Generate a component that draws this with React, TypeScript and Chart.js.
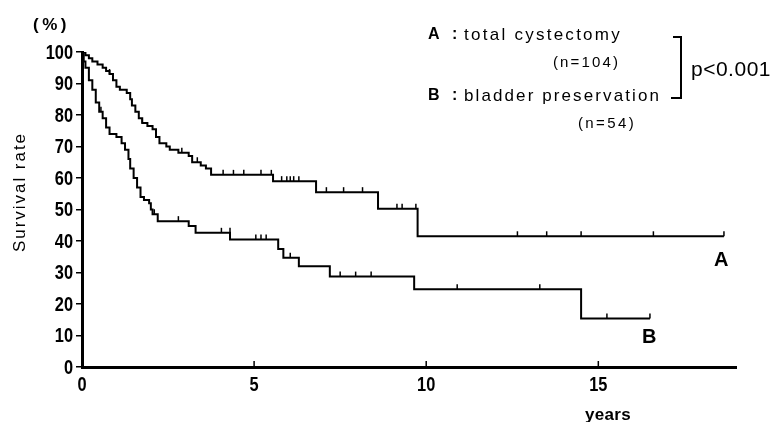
import React, { useEffect, useRef } from "react";
import { Chart, registerables } from "chart.js";
Chart.register(...registerables);

// Kaplan-Meier curve A: total cystectomy (time in years, survival %)
const aTimes = [0, 0.1, 0.2, 0.3, 0.45, 0.6, 0.7, 0.8, 0.9, 1.0, 1.1, 1.3, 1.4, 1.45, 1.55, 1.65, 1.75, 1.9, 2.05, 2.15, 2.25, 2.45, 2.55, 2.8, 3.1, 3.2, 3.45, 3.6, 3.75, 5.55, 6.8, 8.6, 9.75, 18.65];
const aSurv = [100, 99, 98, 97, 96, 95, 94, 93, 91, 89, 88, 87, 85, 83, 81, 79, 77.5, 76.5, 75.5, 73, 71, 70, 69, 68, 67, 65, 64, 63, 61, 59, 55.5, 50.2, 41.5, 41.5];
// Curve B: bladder preservation
const bTimes = [0, 0.05, 0.1, 0.2, 0.3, 0.4, 0.5, 0.6, 0.7, 0.8, 1.0, 1.15, 1.25, 1.35, 1.4, 1.5, 1.6, 1.7, 1.8, 1.95, 2.0, 2.05, 2.2, 3.1, 3.3, 4.3, 5.7, 5.85, 6.3, 7.2, 9.65, 14.5, 16.5];
const bSurv = [100, 97, 95, 91, 88, 84, 81, 79, 76, 74, 73, 71, 69, 66, 63, 60, 57, 54, 53, 52, 50, 48.5, 46.3, 44.8, 42.6, 40.5, 37.5, 34.7, 32, 28.7, 24.7, 15.4, 15.4];
// Censored observations
const aCensorTimes = [0.8, 1.75, 2.9, 3.35, 4.1, 4.4, 4.7, 5.2, 5.5, 5.8, 5.95, 6.05, 6.15, 6.3, 7.1, 7.6, 8.15, 9.15, 9.3, 9.7, 12.65, 13.5, 14.5, 16.6, 18.65];
const aCensorSurv = [93, 77.5, 68, 65, 61, 61, 61, 61, 61, 59, 59, 59, 59, 59, 55.5, 55.5, 55.5, 50.2, 50.2, 50.2, 41.5, 41.5, 41.5, 41.5, 41.5];
const bCensorTimes = [0.55, 2.1, 2.8, 4.05, 4.3, 5.05, 5.2, 5.35, 6.05, 7.5, 7.95, 8.4, 10.9, 13.3, 15.25, 16.5];
const bCensorSurv = [81, 48.5, 46.3, 42.6, 42.6, 40.5, 40.5, 40.5, 34.7, 28.7, 28.7, 28.7, 24.7, 24.7, 15.4, 15.4];

const xTickValues = [0, 5, 10, 15];
const yTickValues = [0, 10, 20, 30, 40, 50, 60, 70, 80, 90, 100];

const FONT = '"Liberation Sans", Arial, sans-serif';
const SQUEEZE = 0.78;

function fitText(ctx: CanvasRenderingContext2D, text: string, x: number, y: number, width: number) {
  (ctx as any).letterSpacing = "0px";
  const w = ctx.measureText(text).width;
  const sp = (width - w) / text.length;
  (ctx as any).letterSpacing = `${sp}px`;
  ctx.fillText(text, x, y);
  (ctx as any).letterSpacing = "0px";
}

function narrowText(ctx: CanvasRenderingContext2D, text: string, x: number, y: number, align: "left" | "right" | "center") {
  ctx.save();
  ctx.translate(x, y);
  ctx.scale(SQUEEZE, 1);
  ctx.textAlign = align;
  ctx.fillText(text, 0, 0);
  ctx.restore();
}

const overlay = {
  id: "overlay",
  afterDatasetsDraw(chart: any) {
    const ctx: CanvasRenderingContext2D = chart.ctx;
    const xs = chart.scales.x;
    const ys = chart.scales.y;
    ctx.save();
    ctx.strokeStyle = "#000";
    ctx.lineWidth = 1.5;
    const drawCensor = (ts: number[], ss: number[]) => {
      ts.forEach((t, i) => {
        const px = xs.getPixelForValue(t);
        const py = ys.getPixelForValue(ss[i]);
        ctx.beginPath();
        ctx.moveTo(px, py);
        ctx.lineTo(px, py - 5);
        ctx.stroke();
      });
    };
    drawCensor(aCensorTimes, aCensorSurv);
    drawCensor(bCensorTimes, bCensorSurv);
    xTickValues.forEach((v) => {
      if (v === 0) return;
      const px = xs.getPixelForValue(v);
      ctx.beginPath();
      ctx.moveTo(px, xs.top);
      ctx.lineTo(px, xs.top - 6);
      ctx.stroke();
    });
    ctx.restore();
  },
  afterDraw(chart: any) {
    const ctx: CanvasRenderingContext2D = chart.ctx;
    const xs = chart.scales.x;
    const ys = chart.scales.y;
    ctx.save();
    ctx.fillStyle = "#000";
    ctx.strokeStyle = "#000";
    ctx.textBaseline = "middle";
    ctx.textAlign = "left";
    // tick labels (narrow, bold)
    ctx.font = `bold 21px ${FONT}`;
    ys.ticks.forEach((t: any) => {
      narrowText(ctx, String(t.value), ys.right - 9, ys.getPixelForValue(t.value) + 1, "right");
    });
    xs.ticks.forEach((t: any) => {
      narrowText(ctx, String(t.value), xs.getPixelForValue(t.value), xs.top + 18, "center");
    });
    // (%)
    ctx.font = `bold 17px ${FONT}`;
    fitText(ctx, "(%)", 33, 25, 37);
    // y title
    ctx.save();
    ctx.translate(20, 192);
    ctx.rotate(-Math.PI / 2);
    ctx.font = `17px ${FONT}`;
    fitText(ctx, "Survival rate", -60, 0, 120);
    ctx.restore();
    // legend
    ctx.font = `bold 16px ${FONT}`;
    ctx.fillText("A", 428, 35);
    ctx.fillText(":", 452, 35);
    ctx.fillText("B", 428, 96);
    ctx.fillText(":", 452, 96);
    ctx.font = `17px ${FONT}`;
    fitText(ctx, "total cystectomy", 464, 35, 158);
    fitText(ctx, "bladder preservation", 464, 96, 197);
    ctx.font = `15px ${FONT}`;
    fitText(ctx, "(n=104)", 553, 63, 67);
    fitText(ctx, "(n=54)", 578, 124, 58);
    // bracket
    ctx.lineWidth = 2;
    ctx.beginPath();
    ctx.moveTo(673, 37);
    ctx.lineTo(681, 37);
    ctx.lineTo(681, 98);
    ctx.lineTo(671, 98);
    ctx.stroke();
    ctx.font = `21px ${FONT}`;
    fitText(ctx, "p<0.001", 691, 70, 80);
    // curve labels
    ctx.font = `bold 20px ${FONT}`;
    ctx.fillText("A", 714, 260);
    ctx.fillText("B", 642, 337);
    // x title
    ctx.font = `bold 17px ${FONT}`;
    fitText(ctx, "years", 585, 415, 46);
    ctx.restore();
  },
};

export default function App() {
  const ref = useRef<HTMLCanvasElement>(null);
  useEffect(() => {
    if (!ref.current) return;
    const chart = new Chart(ref.current, {
      type: "line",
      data: {
        datasets: [
          {
            label: "A",
            data: aTimes.map((t, i) => ({ x: t, y: aSurv[i] })),
            stepped: "before",
            borderColor: "#000",
            borderWidth: 2,
            pointRadius: 0,
            fill: false,
          },
          {
            label: "B",
            data: bTimes.map((t, i) => ({ x: t, y: bSurv[i] })),
            stepped: "before",
            borderColor: "#000",
            borderWidth: 2,
            pointRadius: 0,
            fill: false,
          },
        ],
      },
      options: {
        animation: false,
        responsive: false,
        events: [],
        layout: { padding: { top: 52, right: 39, bottom: 0, left: 0 } },
        plugins: { legend: { display: false }, tooltip: { enabled: false } },
        scales: {
          x: {
            type: "linear",
            min: 0,
            max: 19,
            afterBuildTicks: (s: any) => {
              s.ticks = xTickValues.map((v) => ({ value: v }));
            },
            afterFit: (s: any) => {
              s.height = 55;
            },
            grid: { drawOnChartArea: false, drawTicks: false },
            border: { color: "#000", width: 3 },
            ticks: { color: "rgba(0,0,0,0)", font: { family: FONT, size: 17, weight: "bold" }, padding: 8, maxRotation: 0 },
          },
          y: {
            type: "linear",
            min: 0,
            max: 100,
            afterBuildTicks: (s: any) => {
              s.ticks = yTickValues.map((v) => ({ value: v }));
            },
            afterFit: (s: any) => {
              s.width = 82;
            },
            grid: { drawOnChartArea: false, drawTicks: true, tickLength: 6, color: "#000", lineWidth: 1.5 },
            border: { color: "#000", width: 3 },
            ticks: { color: "rgba(0,0,0,0)", font: { family: FONT, size: 17, weight: "bold" }, padding: 2 },
          },
        },
      },
      plugins: [overlay],
    } as any);
    return () => chart.destroy();
  }, []);
  return (
    <div style={{ position: "fixed", left: 0, top: 0, width: 775, height: 422, background: "#fff" }}>
      <canvas ref={ref} width={775} height={422} />
    </div>
  );
}
